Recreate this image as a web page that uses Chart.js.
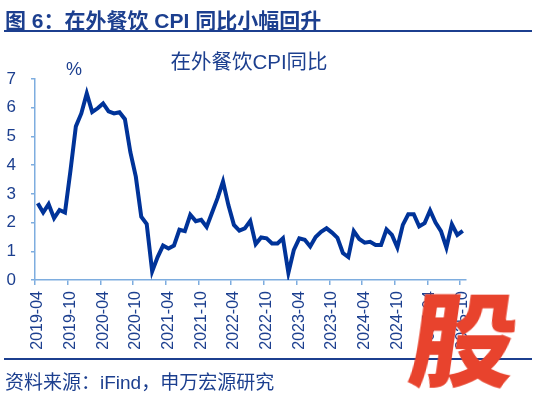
<!DOCTYPE html>
<html>
<head>
<meta charset="utf-8">
<script src="https://cdn.jsdelivr.net/npm/chart.js@4/dist/chart.umd.min.js"></script>
<style>
  html, body { margin: 0; padding: 0; background: #fff; }
  #wrap { position: relative; width: 535px; height: 398px; overflow: hidden; background: #fff; }
  #c { position: absolute; left: 0; top: 0; }
  .txt { position: absolute; color: #1C3F8F; font-family: "Liberation Sans", Arial, "Noto Sans CJK SC", sans-serif; white-space: nowrap; }
  #head { left: 5px; top: 4px; font-size: 21px; font-weight: bold; }
  #headline { position: absolute; left: 4px; top: 30px; width: 528px; height: 2px; background: #1C3F8F; }
  #footline { position: absolute; left: 4px; top: 358px; width: 528px; height: 2px; background: #1C3F8F; }
  #foot { left: 5px; top: 367px; font-size: 19px; }
  #ctitle { left: 0; width: 498px; text-align: center; top: 45px; font-size: 20.5px; }
  #pct { left: 66px; top: 59px; font-size: 18px; }
  #stamp { position: absolute; left: 414px; top: 284px; font-size: 102px; line-height: 1; color: #E8432D;
           font-family: "Noto Sans CJK SC", sans-serif; font-weight: 900; transform: skewX(-8deg) scaleX(1.04); }
</style>
</head>
<body>
<div id="wrap">
  <canvas id="c" width="535" height="398"></canvas>
  <div class="txt" id="head">图 6：在外餐饮 CPI 同比小幅回升</div>
  <div id="headline"></div>
  <div class="txt" id="ctitle">在外餐饮CPI同比</div>
  <div class="txt" id="pct">%</div>
  <div id="footline"></div>
  <div class="txt" id="foot">资料来源：iFind，申万宏源研究</div>
  <div id="stamp">股</div>
</div>
<script>
// ---- data ----
const startYear = 2019;
const startMonth = 4;
const cpiYoY = [
  2.67, 2.35, 2.64, 2.15, 2.44, 2.35, 3.8, 5.35, 5.8, 6.5,
  5.85, 5.98, 6.15, 5.87, 5.8, 5.84, 5.6, 4.45, 3.6, 2.2,
  1.95, 0.3, 0.8, 1.2, 1.1, 1.2, 1.75, 1.7, 2.27, 2.05,
  2.1, 1.85, 2.35, 2.85, 3.43, 2.6, 1.92, 1.72, 1.8, 2.06,
  1.25, 1.48, 1.45, 1.27, 1.27, 1.45, 0.25, 1.05, 1.45, 1.4,
  1.17, 1.5, 1.68, 1.8, 1.65, 1.47, 0.94, 0.8, 1.7, 1.43,
  1.3, 1.33, 1.22, 1.22, 1.76, 1.57, 1.13, 1.92, 2.29, 2.29,
  1.87, 1.98, 2.42, 2.0, 1.7, 1.13, 1.94, 1.57, 1.71
];
const yTicks = [0, 1, 2, 3, 4, 5, 6, 7];
const labelEvery = 6;

const months = [];
for (let k = 0; k < cpiYoY.length; k++) {
  const m0 = startMonth - 1 + k;
  const y = startYear + Math.floor(m0 / 12);
  const m = (m0 % 12) + 1;
  months.push(y + '-' + (m < 10 ? '0' + m : '' + m));
}

const axisColor = '#7EADDF';
const textColor = '#1C3F8F';
const fontFam = '"Liberation Sans", Arial, sans-serif';

new Chart(document.getElementById('c'), {
  type: 'line',
  data: {
    labels: months,
    datasets: [{
      data: cpiYoY,
      borderColor: '#003399',
      borderWidth: 4,
      pointRadius: 0,
      tension: 0,
      fill: false
    }]
  },
  options: {
    responsive: false,
    animation: false,
    devicePixelRatio: 1,
    layout: { padding: { top: 79, right: 69.5, left: 0, bottom: 0 } },
    plugins: { legend: { display: false }, title: { display: false }, tooltip: { enabled: false } },
    scales: {
      x: {
        type: 'category',
        offset: true,
        grid: {
          offset: true,
          drawOnChartArea: false,
          drawTicks: true,
          tickLength: 5,
          color: (ctx) => (ctx.index % labelEvery === 0 ? axisColor : 'rgba(0,0,0,0)'),
          lineWidth: 1.5
        },
        border: { display: true, color: axisColor, width: 1.5 },
        ticks: {
          autoSkip: false,
          minRotation: 90,
          maxRotation: 90,
          padding: 6,
          color: textColor,
          font: { family: fontFam, size: 16 },
          callback: function (val, idx) { return idx % labelEvery === 0 ? months[idx] : ''; }
        },
        afterFit: (s) => { s.height = 118; }
      },
      y: {
        min: 0,
        max: 7,
        afterBuildTicks: (s) => { s.ticks = yTicks.map(v => ({ value: v })); },
        grid: { drawOnChartArea: false, drawTicks: true, tickLength: 4, color: axisColor, lineWidth: 1.5 },
        border: { display: true, color: axisColor, width: 1.5 },
        ticks: {
          padding: 15,
          color: textColor,
          font: { family: fontFam, size: 17 }
        },
        afterFit: (s) => { s.width = 35; }
      }
    }
  }
});
</script>
</body>
</html>
